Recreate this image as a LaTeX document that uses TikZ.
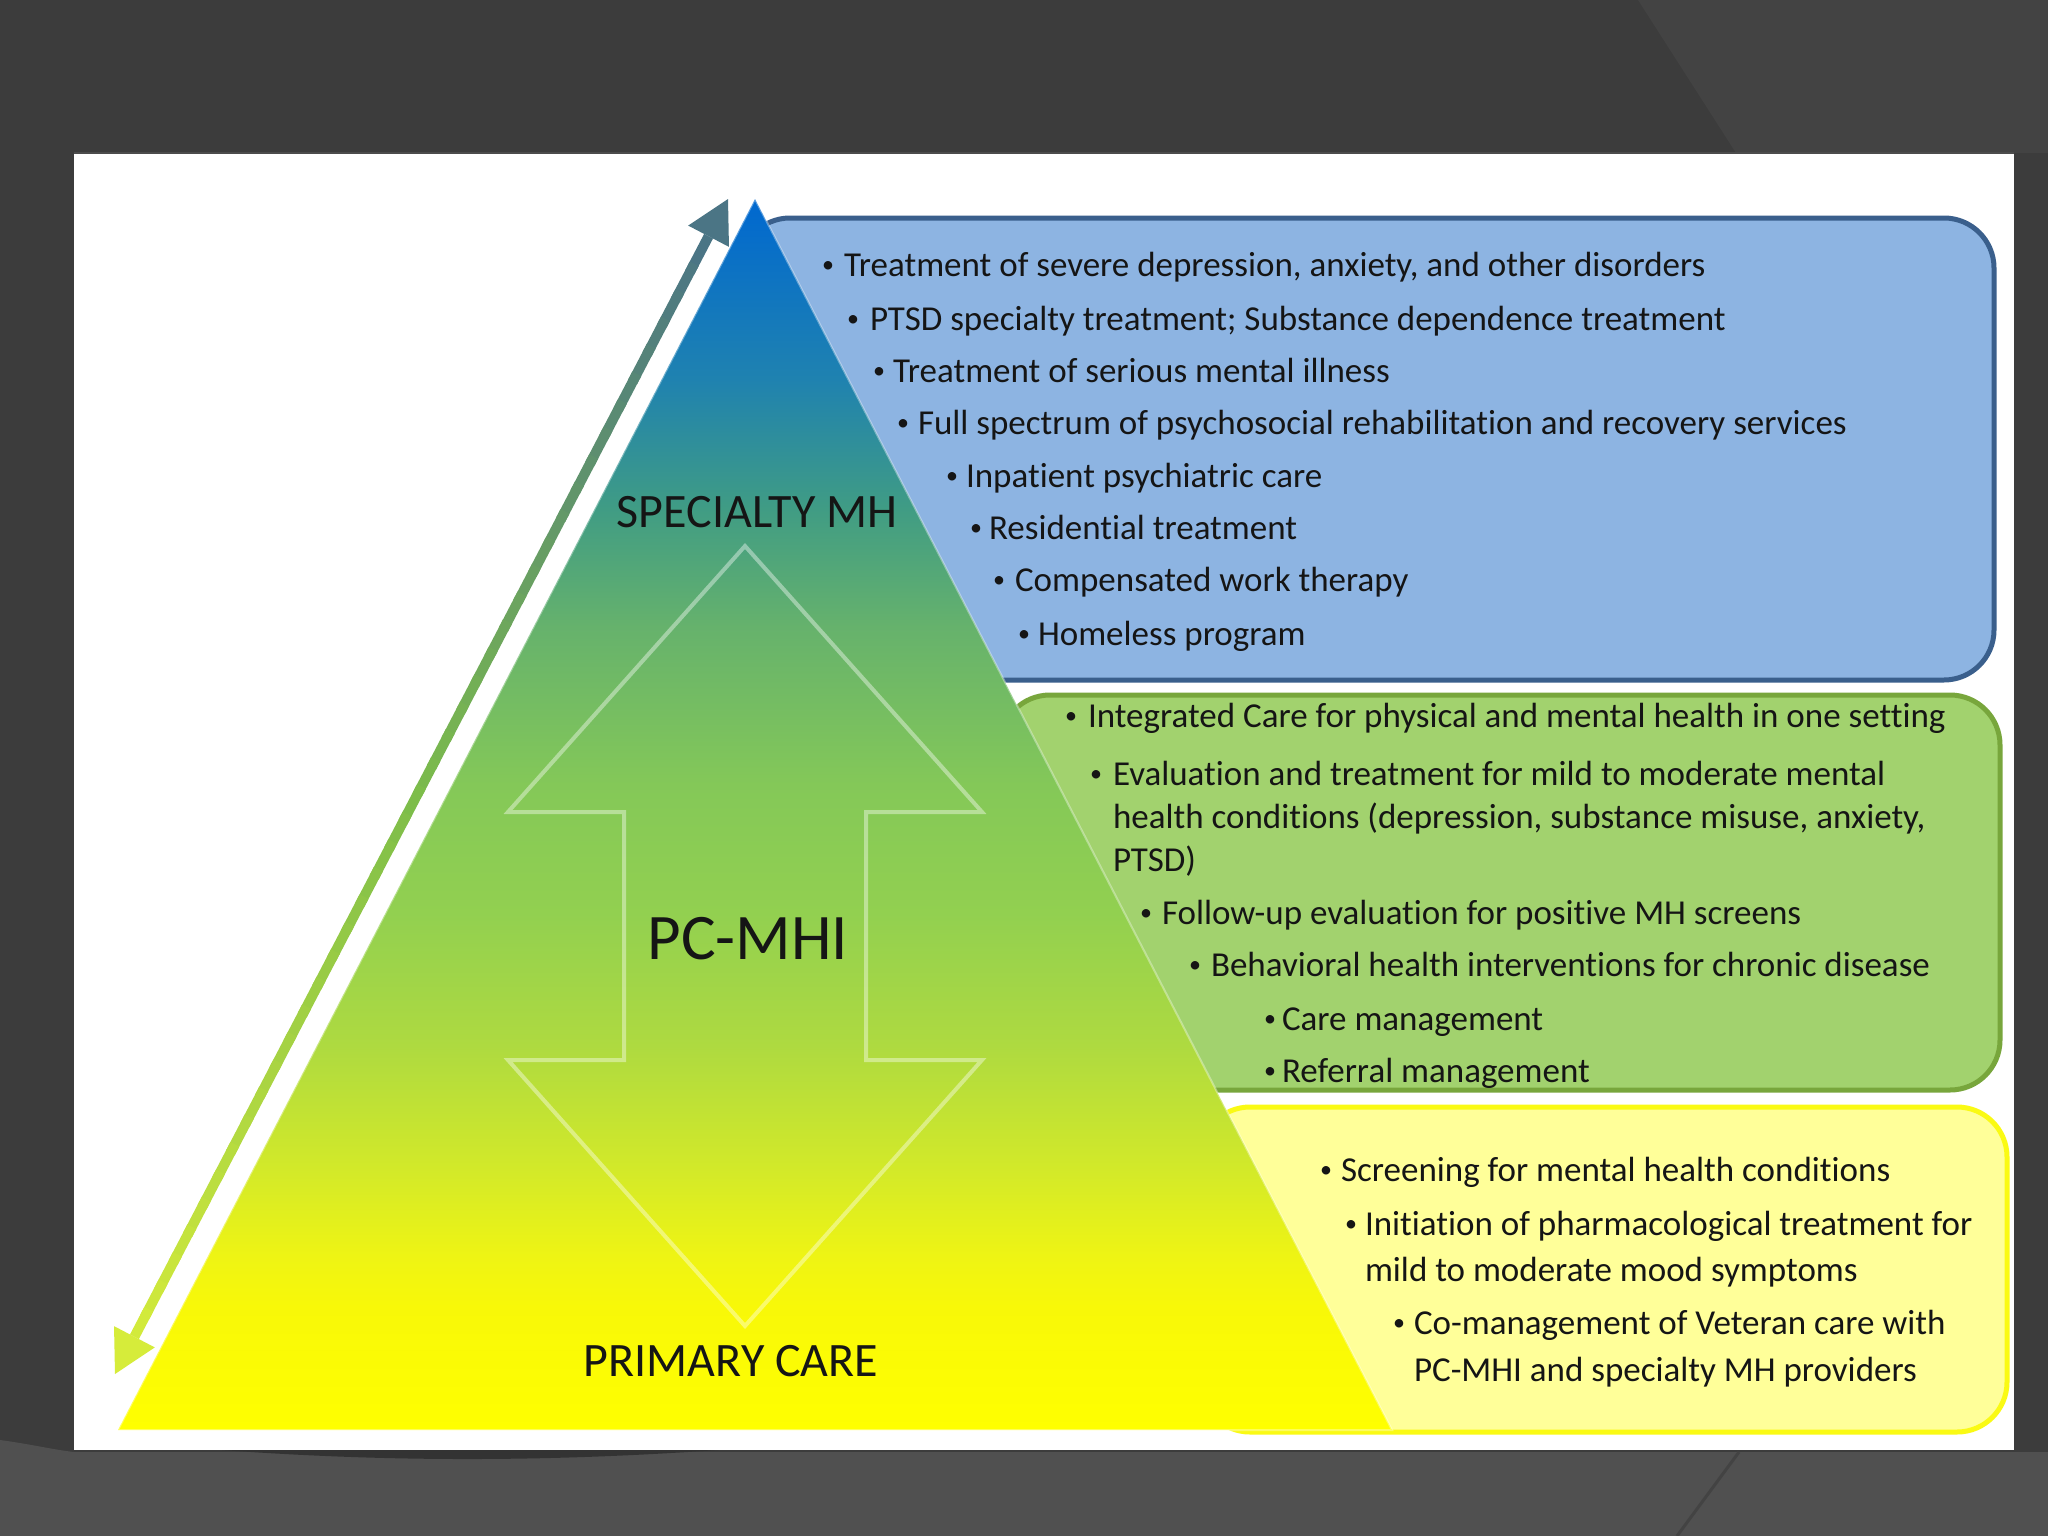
\documentclass[tikz,border=0pt]{standalone}
\usepackage{fontspec}
\setmainfont{Carlito}[Ligatures=NoCommon]
\usetikzlibrary{calc}
\definecolor{bgdark}{HTML}{3C3C3C}
\definecolor{bglow}{HTML}{505050}
\definecolor{bgmid}{HTML}{434343}
\definecolor{blueFill}{HTML}{8DB4E2}
\definecolor{blueLine}{HTML}{3A5F8C}
\definecolor{greenFill}{HTML}{A2D26E}
\definecolor{greenLine}{HTML}{78A63C}
\definecolor{yelFill}{HTML}{FFFF99}
\definecolor{yelLine}{HTML}{FAFA14}
\definecolor{txt}{HTML}{151515}
\definecolor{aslate}{HTML}{4B7585}
\definecolor{agreen}{HTML}{7DBD4A}
\definecolor{aylw}{HTML}{D6EC3A}
\definecolor{pA}{HTML}{FFFF00}
\definecolor{pB}{HTML}{F8F808}
\definecolor{pC}{HTML}{EEF414}
\definecolor{pD}{HTML}{D4EA28}
\definecolor{pE}{HTML}{AEDA40}
\definecolor{pF}{HTML}{92D050}
\definecolor{pG}{HTML}{84C858}
\definecolor{pH}{HTML}{66B26C}
\definecolor{pI}{HTML}{409C84}
\definecolor{pJ}{HTML}{1F82B0}
\definecolor{pK}{HTML}{0068D0}
\pgfdeclareverticalshading{pyr}{100bp}{color(0bp)=(pA); color(25bp)=(pA); color(30bp)=(pB); color(32.1bp)=(pC); color(35.4bp)=(pD); color(40.6bp)=(pE); color(46bp)=(pF); color(51.2bp)=(pG); color(57.6bp)=(pH); color(62.4bp)=(pI); color(67.7bp)=(pJ); color(75bp)=(pK); color(100bp)=(pK)}
\newcommand{\bulletglyph}{\raisebox{4pt}{\fontsize{24}{24}\selectfont\textbullet}}
\newcommand{\bitem}[5]{\node[itm] (#1) at (#2,#4) {\makebox[\dimexpr #3pt - #2pt\relax][l]{\bulletglyph}#5};}
\newcommand{\citem}[4]{\node[itm] (#1) at (#2,#3) {#4};}
\begin{document}
\begin{tikzpicture}[x=1pt,y=-1pt,
  every node/.style={inner sep=0pt,outer sep=0pt},
  itm/.style={anchor=base west,font=\fontsize{35}{42}\selectfont,text=txt},
  lbl/.style={anchor=base,font=\fontsize{48}{56}\selectfont,text=txt},
  bigl/.style={anchor=base,font=\fontsize{65}{75}\selectfont,text=txt},
  boxstyle/.style={rounded corners=50pt,line width=5pt}]
\useasboundingbox (0,0) rectangle (2048,1536);
% background
\fill[bgdark] (0,0) rectangle (2048,1536);
\fill[bgmid] (1638,0) -- (2048,0) -- (2048,153) -- (1736,153) -- cycle;
\fill[bglow] (0,1440) .. controls (30,1444) and (55,1450) .. (74,1452) -- (2048,1452) -- (2048,1536) -- (0,1536) -- cycle;
\draw[bgmid,line width=3pt] (1739,1452) -- (1677,1536);
% white panel
\fill[white] (74,153) rectangle (2014,1450);
\draw[black!70,line width=1.5pt] (74,153) -- (2014,153);
\fill[black!80] (222,1450) .. controls (400,1463) and (560,1461) .. (718,1450) -- cycle;
% boxes
\draw[boxstyle,fill=blueFill,draw=blueLine] (740,218) rectangle (1994,680);
\draw[boxstyle,fill=greenFill,draw=greenLine] (1000,695) rectangle (2000,1090);
\draw[boxstyle,fill=yelFill,draw=yelLine] (1200,1107) rectangle (2007,1432);
% pyramid
\coordinate (apex) at (755,199);
\coordinate (bl) at (118,1430);
\coordinate (br) at (1392,1430);
\path[shading=pyr] (apex) -- (bl) -- (br) -- cycle;
\draw[white,opacity=0.35,line width=2pt] (apex) -- (bl) -- (br) -- cycle;
% big outline double arrow
\draw[white,opacity=0.4,line width=4pt,line join=miter]
  (745,546) -- (982,812) -- (866,812) -- (866,1060) -- (982,1060) -- (745,1326)
  -- (508,1060) -- (624,1060) -- (624,812) -- (508,812) -- cycle;
% left double arrow
\coordinate (atop) at (728,199);
\coordinate (abot) at (115,1374);
\coordinate (ahT) at ($(atop)!42pt!(abot)$);
\coordinate (ahB) at ($(abot)!42pt!(atop)$);
\foreach \i in {0,...,39}{
  \pgfmathsetmacro{\ta}{\i/40}
  \pgfmathsetmacro{\tb}{min(1,(\i+1.3)/40)}
  \pgfmathtruncatemacro{\p}{ifthenelse(\i<20,100-5*\i,200-5*\i)}
  \ifnum\i<20 \colorlet{sc}{aslate!\p!agreen}\else\colorlet{sc}{agreen!\p!aylw}\fi
  \draw[sc,line width=10pt] ($(ahT)!\ta!(ahB)$) -- ($(ahT)!\tb!(ahB)$);
}
\fill[aslate] (atop) -- ($(ahT)!23pt!90:(atop)$) -- ($(ahT)!23pt!-90:(atop)$) -- cycle;
\fill[aylw] (abot) -- ($(ahB)!23pt!90:(abot)$) -- ($(ahB)!23pt!-90:(abot)$) -- cycle;
% pyramid labels
\node[lbl] (spec) at (757,527) {SPECIALTY MH};
\node[bigl] (pcmhi) at (748,959) {PC-MHI};
\node[lbl] (prim) at (731,1376) {PRIMARY CARE};
% blue items
\bitem{s1}{822}{844}{276}{Treatment of severe depression, anxiety, and other disorders}
\bitem{s2}{847}{870}{330}{PTSD specialty treatment; Substance dependence treatment}
\bitem{s3}{873}{893}{382}{Treatment of serious mental illness}
\bitem{s4}{897}{918}{434}{Full spectrum of psychosocial rehabilitation and recovery services}
\bitem{s5}{946}{966}{487}{Inpatient psychiatric care}
\bitem{s6}{970}{989}{539}{Residential treatment}
\bitem{s7}{993}{1015}{591}{Compensated work therapy}
\bitem{s8}{1018}{1038}{645}{Homeless program}
% green items
\bitem{g1}{1065}{1088}{727}{Integrated Care for physical and mental health in one setting}
\bitem{g2}{1090}{1113}{785}{Evaluation and treatment for mild to moderate mental}
\citem{g2b}{1113}{828}{health conditions (depression, substance misuse, anxiety,}
\citem{g2c}{1113}{871}{PTSD)}
\bitem{g3}{1140}{1162}{924}{Follow-up evaluation for positive MH screens}
\bitem{g4}{1189}{1211}{976}{Behavioral health interventions for chronic disease}
\bitem{g5}{1264}{1282}{1030}{Care management}
\bitem{g6}{1264}{1282}{1082}{Referral management}
% yellow items
\bitem{y1}{1320}{1341}{1181}{Screening for mental health conditions}
\bitem{y2}{1345}{1365}{1235}{Initiation of pharmacological treatment for}
\citem{y2b}{1365}{1281}{mild to moderate mood symptoms}
\bitem{y3}{1393}{1414}{1334}{Co-management of Veteran care with}
\citem{y3b}{1414}{1381}{PC-MHI and specialty MH providers}
\end{tikzpicture}
\end{document}
